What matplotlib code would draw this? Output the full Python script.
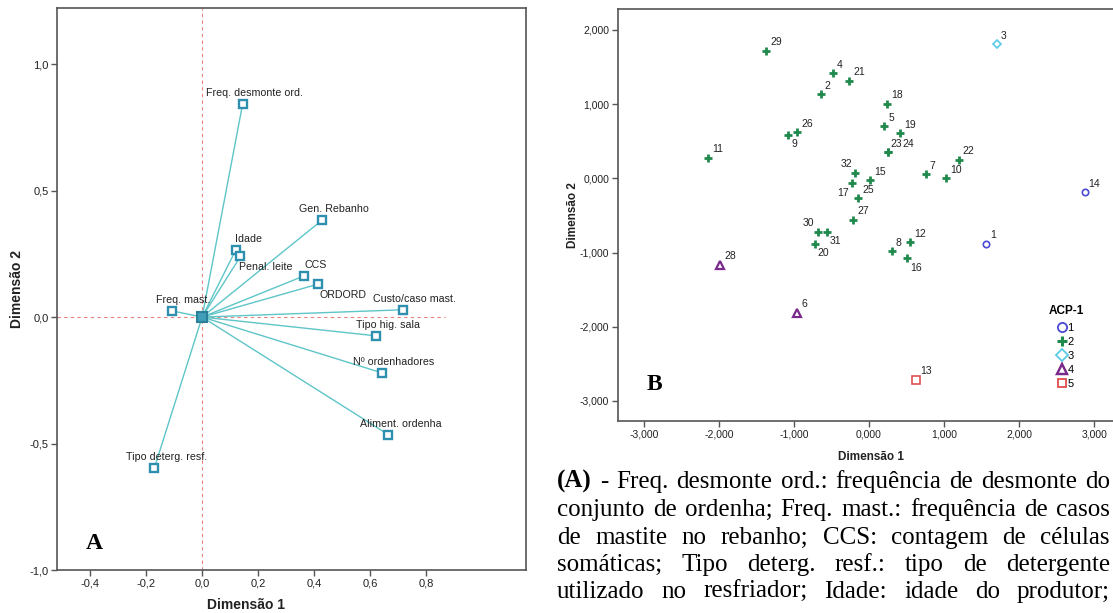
import matplotlib
matplotlib.use("Agg")
import matplotlib.pyplot as plt
from matplotlib.lines import Line2D

# ---------------- data: panel A (variable loadings) ----------------
vars_a = ["Freq. desmonte ord.", "Gen. Rebanho", "Idade", "Penal. leite", "CCS",
          "ORDORD", "Custo/caso mast.", "Freq. mast.", "Tipo hig. sala",
          "Nº ordenhadores", "Aliment. ordenha", "Tipo deterg. resf."]
dim1_a = [0.145, 0.428, 0.121, 0.137, 0.364, 0.413, 0.717, -0.109, 0.620, 0.641, 0.665, -0.171]
dim2_a = [0.844, 0.383, 0.267, 0.240, 0.163, 0.130, 0.029, 0.025, -0.074, -0.220, -0.465, -0.598]
xticks_a = [-0.4, -0.2, 0.0, 0.2, 0.4, 0.6, 0.8]
yticks_a = [-1.0, -0.5, 0.0, 0.5, 1.0]

# ---------------- data: panel B (object scores) ----------------
ids_b = list(range(1, 33))
dim1_b = [1.563, -0.643, 1.699, -0.478, 0.204, -0.959, 0.754, 0.306, -1.073, 1.031,
          -2.139, 0.545, 0.628, 2.873, 0.019, 0.501, -0.220, 0.243, 0.418, -0.717,
          -0.265, 1.193, 0.257, 0.257, -0.143, -0.959, -0.210, -1.983, -1.370, -0.673,
          -0.561, -0.187]
dim2_b = [-0.885, 1.132, 1.810, 1.415, 0.705, -1.811, 0.054, -0.980, 0.588, 0.000,
          0.274, -0.863, -2.718, -0.189, -0.023, -1.074, -0.067, 1.006, 0.606, -0.881,
          1.316, 0.251, 0.354, 0.354, -0.270, 0.620, -0.558, -1.168, 1.716, -0.720,
          -0.720, 0.071]
group_b = [1, 2, 3, 2, 2, 4, 2, 2, 2, 2,
           2, 2, 5, 1, 2, 2, 2, 2, 2, 2,
           2, 2, 2, 2, 2, 2, 2, 4, 2, 2,
           2, 2]
groups = [1, 2, 3, 4, 5]
ticks_b = [-3, -2, -1, 0, 1, 2, 3]

caption_lines = [
    "(A) - Freq. desmonte ord.: frequência de desmonte do",
    "conjunto de ordenha; Freq. mast.: frequência de casos",
    "de mastite no rebanho; CCS: contagem de células",
    "somáticas; Tipo deterg. resf.: tipo de detergente",
    "utilizado no resfriador; Idade: idade do produtor;",
]

# ---------------- style ----------------
W, H = 1113, 613
plt.rcParams['font.family'] = ['Liberation Sans', 'DejaVu Sans']
fig = plt.figure(figsize=(W / 100, H / 100), dpi=100)
fig.patch.set_facecolor('white')

def fx(px):
    return px / W

def fy(py):
    return 1 - py / H

spine_col = '#555555'
teal_line = '#5ec5c8'
teal_mark = '#2f8fae'
ref_red = '#e98080'

# ---------------- panel A ----------------
axA = fig.add_axes([fx(56.8), fy(570), fx(525.8) - fx(56.8), fy(8.3) - fy(570)])
axA.set_xlim(-0.519, 1.156)
axA.set_ylim(-1.0, 1.221)
for s in axA.spines.values():
    s.set_color(spine_col)
    s.set_linewidth(1.2)
axA.axhline(0, xmin=0, xmax=(0.868 + 0.519) / (1.156 + 0.519), color=ref_red,
            lw=0.8, ls=(0, (3, 3)), zorder=1)
axA.axvline(0, color=ref_red, lw=0.8, ls=(0, (3, 3)), zorder=1)
for x, y in zip(dim1_a, dim2_a):
    axA.plot([0, x], [0, y], color=teal_line, lw=1.0, zorder=2)
axA.plot(dim1_a, dim2_a, ls='none', marker='s', ms=6.2, mfc='white', mec=teal_mark,
         mew=1.7, zorder=3)
axA.plot([0], [0], ls='none', marker='s', ms=7, mfc='#3f9fbb', mec='#2a7f99', mew=1.5, zorder=4)
below = {"Penal. leite", "ORDORD"}
for name, x, y in zip(vars_a, dim1_a, dim2_a):
    if name in below:
        off = (25, -11)
    else:
        off = (12, 11)
    axA.annotate(name, (x, y), xytext=off, textcoords='offset pixels', ha='center',
                 va='center', fontsize=7.7, color='#222222', zorder=5)
axA.set_xticks(xticks_a)
axA.set_xticklabels([f"{t:.1f}".replace('.', ',') for t in xticks_a])
axA.set_yticks(yticks_a)
axA.set_yticklabels([f"{t:.1f}".replace('.', ',') for t in yticks_a])
axA.tick_params(axis='both', direction='out', length=4, width=1, color=spine_col,
                labelsize=8, labelcolor='#222222', pad=2)
fig.text(fx(246), fy(605), "Dimensão 1", ha='center', va='center', fontsize=10,
         fontweight='bold', color='#222222')
fig.text(fx(17), fy(289), "Dimensão 2", ha='center', va='center', fontsize=10,
         fontweight='bold', rotation=90, color='#222222')
fig.text(fx(94.7), fy(543.5), "A", ha='center', va='center', fontsize=17,
         fontweight='bold', family='Liberation Serif', color='black')

# ---------------- panel B ----------------
x0b, x1b = -3.351, 3.35
left_px = 617.5
right_px = 869 + x1b * 75.05
axB = fig.add_axes([fx(left_px), fy(421), fx(right_px) - fx(left_px), fy(9) - fy(421)])
axB.set_xlim(x0b, x1b)
axB.set_ylim(-3.271, 2.282)
for s in axB.spines.values():
    s.set_color(spine_col)
    s.set_linewidth(1.2)

gstyle = {
    1: dict(marker='o', color='#4a4ad2', ms=4.6, lms=6.6, mew=1.2, filled=False),
    2: dict(marker='+', color='#1f8a4c', ms=5.5, lms=6.5, mew=2.0, filled=True),
    3: dict(marker='D', color='#5ccbe8', ms=4.4, lms=6.2, mew=1.2, filled=False),
    4: dict(marker='^', color='#7a2a8a', ms=5.2, lms=6.5, mew=1.6, filled=False),
    5: dict(marker='s', color='#e05050', ms=5.2, lms=6.2, mew=1.2, filled=False),
}
handles = []
for g in groups:
    st = gstyle[g]
    xs = [x for x, gg in zip(dim1_b, group_b) if gg == g]
    ys = [y for y, gg in zip(dim2_b, group_b) if gg == g]
    mfc = st['color'] if st['filled'] else 'none'
    axB.plot(xs, ys, ls='none', marker=st['marker'], ms=st['ms'], mfc=mfc,
             mec=st['color'], mew=st['mew'], zorder=3)
    handles.append(Line2D([], [], ls='none', marker=st['marker'], ms=st['lms'],
                          mfc=mfc, mec=st['color'], mew=st['mew'] * 1.1, label=str(g)))

label_off = {9: (3, -9.5, 'left'), 17: (-3.5, -10, 'right'), 32: (-2.5, 9, 'right'),
             30: (-4.5, 9, 'right'), 31: (3, -9.6, 'left'), 20: (2.6, -9.6, 'left'),
             16: (3.3, -9.7, 'left'), 24: (14.5, 8.5, 'left'), 23: (2.6, 8.5, 'left')}
for i, x, y in zip(ids_b, dim1_b, dim2_b):
    dx, dy, ha = label_off.get(i, (4, 8.5, 'left'))
    axB.annotate(str(i), (x, y), xytext=(dx, dy), textcoords='offset pixels', ha=ha,
                 va='center', fontsize=7.5, color='#222222', zorder=5)

axB.set_xticks(ticks_b)
axB.set_xticklabels([f"{t:.3f}".replace('.', ',') for t in ticks_b])
axB.set_yticks(ticks_b[:-1])
axB.set_yticklabels([f"{t:.3f}".replace('.', ',') for t in ticks_b[:-1]])
axB.tick_params(axis='both', direction='out', length=4, width=1, color=spine_col,
                labelsize=7.5, labelcolor='#222222', pad=2)
fig.text(fx(871), fy(456.7), "Dimensão 1", ha='center', va='center', fontsize=8.5,
         fontweight='bold', color='#222222')
fig.text(fx(573.5), fy(215), "Dimensão 2", ha='center', va='center', fontsize=8.5,
         fontweight='bold', rotation=90, color='#222222')
fig.text(fx(654), fy(385), "B", ha='center', va='center', fontsize=17,
         fontweight='bold', family='Liberation Serif', color='black')

leg = axB.legend(handles=handles, title="ACP-1", loc='upper center',
                 bbox_to_anchor=(fx(1066), fy(305)), bbox_transform=fig.transFigure,
                 frameon=False, fontsize=8, handlelength=0.7, handletextpad=0.1,
                 labelspacing=0.36, borderpad=0, borderaxespad=0)
leg.get_title().set_fontweight('bold')
leg.get_title().set_fontsize(8.5)
leg._legend_box.sep = 4

# ---------------- caption (justified) ----------------
renderer = fig.canvas.get_renderer()
cap_left, cap_right = 557, 1110
baselines = [488, 516, 544, 571, 598]
cap_size = 18
for li, (line, base) in enumerate(zip(caption_lines, baselines)):
    words = line.split(' ')
    texts = []
    for wi, w in enumerate(words):
        bold = (li == 0 and wi == 0)
        t = fig.text(0, fy(base), w, ha='left', va='baseline', fontsize=cap_size,
                     family='Liberation Serif', fontweight='bold' if bold else 'normal',
                     color='black')
        texts.append(t)
    widths = [t.get_window_extent(renderer).width for t in texts]
    gap = (cap_right - cap_left - sum(widths)) / (len(words) - 1)
    xpos = cap_left
    for t, wd in zip(texts, widths):
        t.set_x(fx(xpos))
        xpos += wd + gap

fig.savefig("out.png", dpi=100, facecolor='white')
